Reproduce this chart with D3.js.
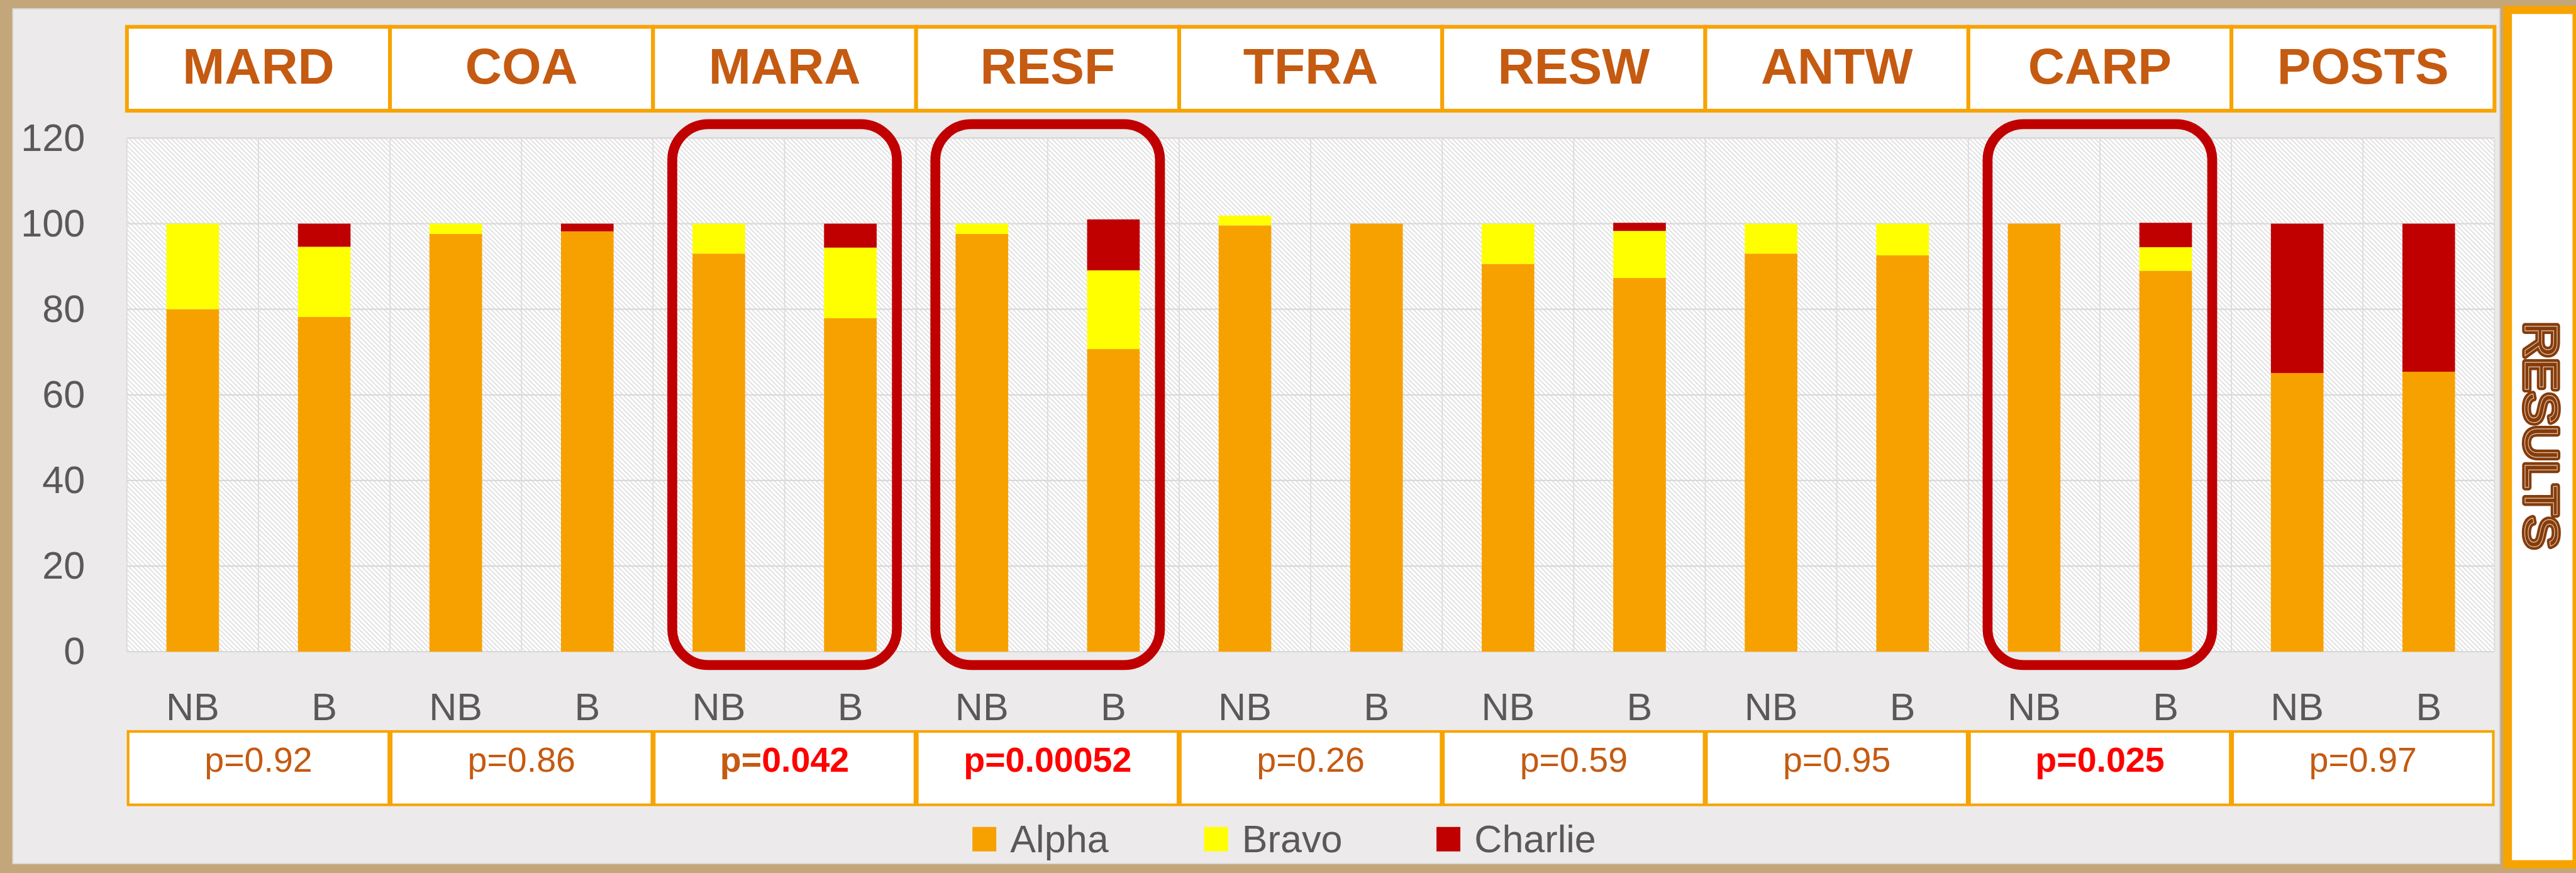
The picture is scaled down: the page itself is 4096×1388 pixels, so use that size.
<!DOCTYPE html>
<html lang="en">
<head>
<meta charset="UTF-8">
<title>Results - stacked bars NB / B</title>
<style>
    html, body { margin: 0; padding: 0; background: #C3A77A; overflow: hidden; }
    svg { display: block; }
</style>
</head>
<body>
<script src="https://cdnjs.cloudflare.com/ajax/libs/d3/7.8.5/d3.min.js"></script>
<script>
    // data
    var categories = ["MARD", "COA", "MARA", "RESF", "TFRA", "RESW", "ANTW", "CARP", "POSTS"];
    var groups = ["NB", "B"];
    var seriesNames = ["Alpha", "Bravo", "Charlie"];

    var alphaNB   = [80,   97.6, 93,   97.6, 99.6, 90.6, 93,   100, 65.1];
    var bravoNB   = [20,   2.4,  7,    2.4,  2.3,  9.4,  7,    0,   0];
    var charlieNB = [0,    0,    0,    0,    0,    0,    0,    0,   34.9];

    var alphaB    = [78.2, 98.2, 77.9, 70.7, 100,  87.3, 92.6, 89,  65.4];
    var bravoB    = [16.4, 0,    16.5, 18.4, 0,    11,   7.4,  5.5, 0];
    var charlieB  = [5.4,  1.8,  5.6,  11.9, 0,    1.9,  0,    5.7, 34.6];

    var pValues = ["0.92", "0.86", "0.042", "0.00052", "0.26", "0.59", "0.95", "0.025", "0.97"];
    var pPrefixRed = [false, false, false, true, false, false, false, true, false];
    var highlighted = ["MARA", "RESF", "CARP"];
    var yTicks = [0, 20, 40, 60, 80, 100, 120];

    // drawing in reference units, viewBox scales to the window
    var W = 4424, H = 1499;
    var FONT = "'Liberation Sans', Arial, sans-serif";
    var ORANGE = "#F7A300", BROWN = "#C55A11", GREY = "#595959";
    var colors = {"Alpha": "#F7A100", "Bravo": "#FFFF00", "Charlie": "#C00000"};

    var svg = d3.select("body")
        .append("svg")
        .attr("width", 4096)
        .attr("height", 1388)
        .attr("viewBox", "0 0 " + W + " " + H);

    // hatch pattern for plot area
    var defs = svg.append("defs");
    var pat = defs.append("pattern")
        .attr("id", "hatch").attr("patternUnits", "userSpaceOnUse")
        .attr("width", 8).attr("height", 8);
    pat.append("rect").attr("width", 8).attr("height", 8).attr("fill", "#ffffff");
    pat.append("path")
        .attr("d", "M-2,6 L2,10 M-1,-1 L9,9 M6,-2 L10,2")
        .attr("stroke", "#DADADA").attr("stroke-width", 1.6);

    // outer background + panel
    svg.append("rect").attr("width", W).attr("height", H).attr("fill", "#C3A77A");
    svg.append("rect")
        .attr("x", 22).attr("y", 15).attr("width", 4271).attr("height", 1468)
        .attr("fill", "#EDEAEB").attr("stroke", "#D6D6D6").attr("stroke-width", 2);

    // scales
    var x0 = d3.scaleBand().domain(categories).range([218, 4284]).paddingInner(0).paddingOuter(0);
    var x1 = d3.scaleBand().domain(groups).range([0, x0.bandwidth()]).paddingInner(0.6).paddingOuter(0.3);
    var y = d3.scaleLinear().domain([0, 120]).range([1119, 237]);

    // plot background
    svg.append("rect")
        .attr("x", 218).attr("y", y(120))
        .attr("width", 4284 - 218).attr("height", y(0) - y(120))
        .attr("fill", "url(#hatch)");

    // gridlines
    svg.append("g").selectAll("line").data(yTicks).join("line")
        .attr("x1", 218).attr("x2", 4284)
        .attr("y1", function(d){ return y(d); }).attr("y2", function(d){ return y(d); })
        .attr("stroke", "#D9D9D9").attr("stroke-width", 2.5);

    var vLines = [];
    categories.forEach(function(c){
        vLines.push(x0(c));
        vLines.push(x0(c) + x0.bandwidth() / 2);
    });
    vLines.push(4284);
    svg.append("g").selectAll("line").data(vLines).join("line")
        .attr("x1", function(d){ return d; }).attr("x2", function(d){ return d; })
        .attr("y1", y(120)).attr("y2", y(0))
        .attr("stroke", "#DCDCDC").attr("stroke-width", 2);

    // stacked bars
    var rows = [];
    categories.forEach(function(c, i){
        rows.push({cat: c, grp: "NB", Alpha: alphaNB[i], Bravo: bravoNB[i], Charlie: charlieNB[i]});
        rows.push({cat: c, grp: "B", Alpha: alphaB[i], Bravo: bravoB[i], Charlie: charlieB[i]});
    });
    var stacked = d3.stack().keys(seriesNames)(rows);

    svg.append("g").selectAll("g").data(stacked).join("g")
        .attr("fill", function(d){ return colors[d.key]; })
        .selectAll("rect").data(function(d){ return d; }).join("rect")
        .attr("x", function(d){ return x0(d.data.cat) + x1(d.data.grp); })
        .attr("y", function(d){ return y(d[1]); })
        .attr("width", x1.bandwidth())
        .attr("height", function(d){ return y(d[0]) - y(d[1]); });

    // y axis labels
    var yAxis = svg.append("g")
        .attr("transform", "translate(146,0)")
        .call(d3.axisLeft(y).tickValues(yTicks).tickSize(0).tickPadding(0));
    yAxis.select(".domain").remove();
    yAxis.selectAll("text")
        .attr("font-family", FONT).attr("font-size", 66).attr("fill", GREY);

    // NB / B labels under each category
    categories.forEach(function(c){
        var g = svg.append("g")
            .attr("transform", "translate(" + x0(c) + ",1190)")
            .call(d3.axisBottom(x1).tickSize(0).tickPadding(0));
        g.select(".domain").remove();
        g.selectAll("text").attr("font-family", FONT).attr("font-size", 66).attr("fill", GREY);
    });

    // header cells
    var head = svg.append("g").selectAll("g").data(categories).join("g");
    head.append("rect")
        .attr("x", function(d){ return x0(d); }).attr("y", 46)
        .attr("width", x0.bandwidth()).attr("height", 144)
        .attr("fill", "#ffffff").attr("stroke", ORANGE).attr("stroke-width", 6.5);
    head.append("text")
        .attr("x", function(d){ return x0(d) + x0.bandwidth() / 2; }).attr("y", 144)
        .attr("text-anchor", "middle")
        .attr("font-family", FONT).attr("font-weight", "bold").attr("font-size", 87)
        .attr("fill", BROWN)
        .text(function(d){ return d; });

    // p-value cells
    var pc = svg.append("g").selectAll("g").data(categories).join("g");
    pc.append("rect")
        .attr("x", function(d){ return x0(d) + 2; }).attr("y", 1256)
        .attr("width", x0.bandwidth() - 4).attr("height", 126)
        .attr("fill", "#ffffff").attr("stroke", ORANGE).attr("stroke-width", 4.5);
    var pt = pc.append("text")
        .attr("x", function(d){ return x0(d) + x0.bandwidth() / 2; }).attr("y", 1325)
        .attr("text-anchor", "middle")
        .attr("font-family", FONT).attr("font-size", 60);
    pt.each(function(d, i){
        var sig = parseFloat(pValues[i]) < 0.05;
        var t = d3.select(this).attr("font-weight", sig ? "bold" : "normal");
        t.append("tspan").attr("fill", pPrefixRed[i] ? "#FF0000" : BROWN).text("p=");
        t.append("tspan").attr("fill", sig ? "#FF0000" : BROWN).text(pValues[i]);
    });

    // highlight boxes around significant categories
    svg.append("g").selectAll("rect").data(highlighted).join("rect")
        .attr("x", function(d){ return x0(d) + 33; })
        .attr("y", y(120) - 24)
        .attr("width", x0.bandwidth() - 66)
        .attr("height", y(0) - y(120) + 47)
        .attr("rx", 62).attr("ry", 62)
        .attr("fill", "none").attr("stroke", "#C00000").attr("stroke-width", 17);

    // legend
    var legX = [1670, 2068, 2467];
    var leg = svg.append("g").selectAll("g").data(seriesNames).join("g");
    leg.append("rect")
        .attr("x", function(d, i){ return legX[i]; }).attr("y", 1420)
        .attr("width", 41).attr("height", 42)
        .attr("fill", function(d){ return colors[d]; });
    leg.append("text")
        .attr("x", function(d, i){ return legX[i] + 65; }).attr("y", 1463)
        .attr("font-family", FONT).attr("font-size", 66).attr("fill", GREY)
        .text(function(d){ return d; });

    // RESULTS side box
    svg.append("rect").attr("x", 4299).attr("y", 10).attr("width", 125).attr("height", 1481).attr("fill", ORANGE);
    svg.append("rect").attr("x", 4314).attr("y", 24).attr("width", 104).attr("height", 1453).attr("fill", "#ffffff");
    var side = svg.append("g").attr("transform", "translate(4337,748) rotate(90)");
    side.append("text")
        .attr("text-anchor", "middle").attr("textLength", 390).attr("lengthAdjust", "spacingAndGlyphs")
        .attr("font-family", FONT).attr("font-size", 80)
        .attr("fill", "#843C0C").attr("stroke", "#843C0C").attr("stroke-width", 10).attr("stroke-linejoin", "round")
        .text("RESULTS");
    side.append("text")
        .attr("text-anchor", "middle").attr("textLength", 390).attr("lengthAdjust", "spacingAndGlyphs")
        .attr("font-family", FONT).attr("font-size", 80)
        .attr("fill", "#843C0C").attr("stroke", "#E6C4AC").attr("stroke-width", 1.2)
        .text("RESULTS");
</script>
</body>
</html>
